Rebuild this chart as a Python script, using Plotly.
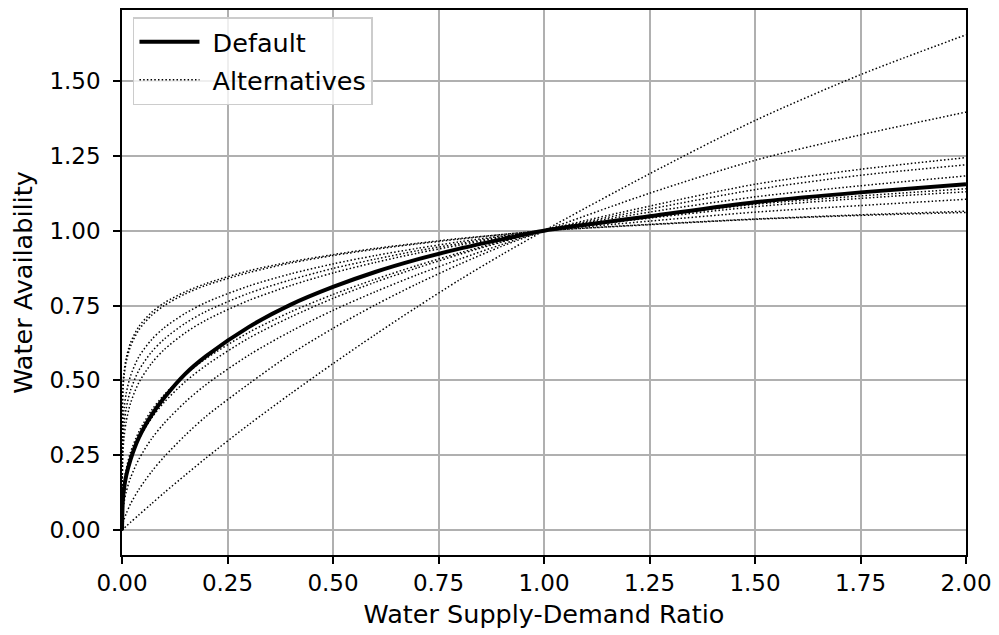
import plotly.graph_objects as go

# x grid (Water Supply-Demand Ratio)
x_ratio = [0, 0.002, 0.005, 0.01, 0.02, 0.04, 0.07, 0.1, 0.15, 0.2, 0.3, 0.4,
           0.5, 0.6, 0.7, 0.8, 0.9, 1.0, 1.25, 1.5, 1.75, 2.0]

# Default curve
default_y = [0, 0.100, 0.141, 0.182, 0.235, 0.309, 0.384, 0.442, 0.522, 0.582, 0.678, 0.753,
             0.812, 0.862, 0.904, 0.940, 0.971, 1.0, 1.048, 1.095, 1.128, 1.155]

# Alternative curves
alt_t1 = [0, 0.474, 0.530, 0.575, 0.625, 0.680, 0.727, 0.759, 0.796, 0.824, 0.866, 0.896,
          0.920, 0.941, 0.958, 0.974, 0.987, 1.0, 1.020, 1.038, 1.051, 1.061]
alt_t2 = [0, 0.460, 0.516, 0.562, 0.613, 0.669, 0.717, 0.750, 0.789, 0.818, 0.860, 0.892,
          0.917, 0.938, 0.956, 0.972, 0.987, 1.0, 1.021, 1.039, 1.053, 1.065]
alt_g1 = [0, 0.348, 0.406, 0.457, 0.514, 0.579, 0.636, 0.676, 0.724, 0.761, 0.815, 0.856,
          0.889, 0.917, 0.941, 0.963, 0.982, 1.0, 1.032, 1.062, 1.084, 1.105]
alt_g2 = [0, 0.298, 0.356, 0.407, 0.466, 0.534, 0.595, 0.638, 0.691, 0.731, 0.791, 0.836,
          0.874, 0.905, 0.933, 0.957, 0.980, 1.0, 1.042, 1.080, 1.108, 1.130]
alt_g3 = [0, 0.255, 0.312, 0.363, 0.423, 0.493, 0.557, 0.603, 0.659, 0.702, 0.767, 0.817,
          0.859, 0.894, 0.925, 0.952, 0.977, 1.0, 1.046, 1.088, 1.116, 1.140]
alt_a = [0, 0.117, 0.161, 0.204, 0.259, 0.329, 0.400, 0.452, 0.520, 0.574, 0.660, 0.729,
         0.787, 0.838, 0.884, 0.926, 0.964, 1.0, 1.062, 1.113, 1.150, 1.183]
alt_b = [0, 0.100, 0.141, 0.182, 0.235, 0.304, 0.374, 0.427, 0.496, 0.551, 0.641, 0.712,
         0.774, 0.828, 0.876, 0.921, 0.962, 1.0, 1.072, 1.137, 1.185, 1.220]
alt_c = [0, 0.062, 0.094, 0.128, 0.174, 0.237, 0.305, 0.357, 0.428, 0.487, 0.584, 0.664,
         0.734, 0.796, 0.853, 0.905, 0.954, 1.0, 1.082, 1.155, 1.205, 1.244]
alt_d = [0, 0.020, 0.036, 0.055, 0.087, 0.136, 0.195, 0.245, 0.317, 0.381, 0.488, 0.588,
         0.674, 0.752, 0.823, 0.888, 0.948, 1.0, 1.125, 1.235, 1.320, 1.396]
alt_e = [0, 0.0026, 0.0065, 0.013, 0.026, 0.051, 0.088, 0.125, 0.184, 0.242, 0.352, 0.456,
         0.556, 0.653, 0.746, 0.836, 0.920, 1.0, 1.190, 1.368, 1.521, 1.654]

alternatives = [alt_t1, alt_t2, alt_g1, alt_g2, alt_g3, alt_a, alt_b, alt_c, alt_d, alt_e]

x_ticks = [0, 0.25, 0.5, 0.75, 1.0, 1.25, 1.5, 1.75, 2.0]
y_ticks = [0, 0.25, 0.5, 0.75, 1.0, 1.25, 1.5]

FONT = "DejaVu Sans"
TICK_SIZE = 23
LABEL_SIZE = 25.5

fig = go.Figure()
for i, ys in enumerate(alternatives):
    fig.add_trace(go.Scatter(
        x=x_ratio, y=ys, mode="lines", name=" Alternatives",
        legendgroup="alt", showlegend=(i == 0), legendrank=2,
        line=dict(color="black", width=1.5, dash="1.5px,2.2px",
                  shape="spline", smoothing=0.8),
        hoverinfo="skip"))

fig.add_trace(go.Scatter(
    x=x_ratio, y=default_y, mode="lines", name=" Default", legendrank=1,
    legendgroup="def",
    line=dict(color="black", width=4, shape="spline", smoothing=0.8)))

axis_common = dict(
    showgrid=True, gridcolor="#b0b0b0", gridwidth=1.5,
    showline=True, linecolor="black", linewidth=1.5, mirror=True,
    ticks="outside", ticklen=7, tickwidth=1.5, tickcolor="black",
    zeroline=False, tickformat=".2f",
    tickfont=dict(family=FONT, size=TICK_SIZE, color="black"),
)

fig.update_layout(
    width=999, height=635,
    margin=dict(l=114, r=41, t=0, b=88),
    paper_bgcolor="white", plot_bgcolor="white",
    font=dict(family=FONT, size=LABEL_SIZE, color="black"),
    xaxis=dict(range=[0, 2], tickvals=x_ticks,
               title=dict(text="Water Supply-Demand Ratio",
                          font=dict(family=FONT, size=LABEL_SIZE), standoff=10),
               **axis_common),
    yaxis=dict(range=[-0.083, 1.737], tickvals=y_ticks, ticklabelstandoff=8,
               title=dict(text="Water Availability",
                          font=dict(family=FONT, size=LABEL_SIZE), standoff=10),
               **axis_common),
    legend=dict(x=0.013, y=0.987, xanchor="left", yanchor="top",
                bgcolor="rgba(255,255,255,0.8)", bordercolor="#cccccc",
                borderwidth=1.5, font=dict(family=FONT, size=LABEL_SIZE),
                itemwidth=60, traceorder="grouped", tracegroupgap=2),
    showlegend=True,
)

fig.write_html("out.html")
